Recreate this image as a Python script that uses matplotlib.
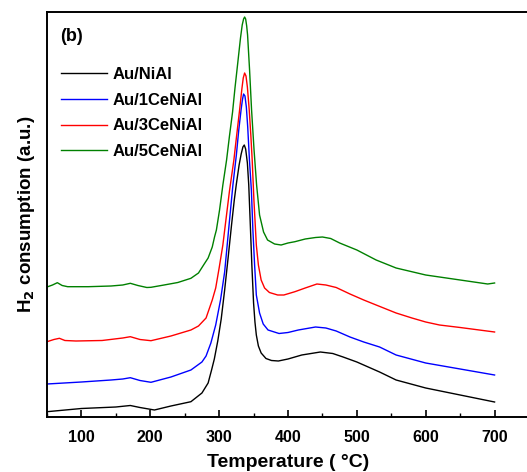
import matplotlib
matplotlib.use("Agg")
import matplotlib.pyplot as plt
from matplotlib.ticker import MultipleLocator

# TPR profiles, temperature in C and H2 signal in a.u. (curves already offset)
t_nial = [50, 100, 150, 171, 185, 206, 230, 259, 275, 284, 289, 293, 298, 303, 308,
          313, 318, 322, 325, 329, 332, 334.5, 336.5, 338.5, 341, 343, 345, 347.5, 350,
          352, 354, 357, 361, 368, 376, 386, 400, 420, 447, 465, 480, 500, 533, 557,
          600, 650, 700]
h2_nial = [0.053, 0.085, 0.10, 0.115, 0.095, 0.07, 0.11, 0.153, 0.24, 0.34, 0.47, 0.58,
           0.76, 0.98, 1.27, 1.59, 1.92, 2.17, 2.33, 2.52, 2.63, 2.70, 2.72, 2.68, 2.54,
           2.32, 1.97, 1.52, 1.14, 0.95, 0.82, 0.71, 0.64, 0.585, 0.565, 0.56, 0.58, 0.62,
           0.65, 0.635, 0.60, 0.55, 0.45, 0.37, 0.29, 0.22, 0.15]

t_1ce = [50, 100, 143, 160, 171, 185, 201, 230, 259, 275, 281, 288, 295, 302, 308, 314,
         320, 325, 328.5, 332, 334, 335.5, 337.5, 339.5, 341.5, 344, 346.8, 349, 351.5,
         354, 358.7, 364, 371, 387, 400, 415, 440, 455, 470, 490, 510, 533, 557, 600,
         650, 700]
h2_1ce = [0.33, 0.35, 0.37, 0.38, 0.393, 0.365, 0.347, 0.40, 0.47, 0.55, 0.61, 0.74,
          0.92, 1.17, 1.45, 1.89, 2.32, 2.62, 2.87, 3.08, 3.18, 3.23, 3.21, 3.10, 2.90,
          2.57, 2.27, 1.87, 1.52, 1.22, 1.04, 0.93, 0.87, 0.835, 0.845, 0.87, 0.90, 0.89,
          0.86, 0.80, 0.75, 0.70, 0.62, 0.54, 0.48, 0.42]

t_3ce = [50, 60, 68, 76, 92, 130, 160, 171, 185, 201, 230, 259, 270, 281, 286, 290, 295,
         300, 305.4, 310, 315, 321.4, 325, 329.7, 333, 335, 337, 339, 341, 343.7, 346,
         348, 350.5, 354, 357, 361, 366, 373, 385, 394, 410, 425, 442, 455, 470, 490,
         510, 528, 557, 580, 600, 620, 650, 700]
h2_3ce = [0.753, 0.775, 0.787, 0.765, 0.76, 0.765, 0.79, 0.803, 0.775, 0.763, 0.81, 0.87,
          0.91, 0.99, 1.09, 1.17, 1.29, 1.49, 1.72, 1.98, 2.26, 2.57, 2.79, 3.07, 3.28,
          3.39, 3.44, 3.41, 3.30, 3.07, 2.82, 2.57, 2.17, 1.72, 1.52, 1.37, 1.29, 1.245,
          1.22, 1.22, 1.253, 1.29, 1.33, 1.32, 1.295, 1.23, 1.17, 1.12, 1.04, 0.99, 0.95,
          0.92, 0.895, 0.85]

t_5ce = [50, 58, 65, 72, 80, 110, 143, 160, 171, 182, 195, 201, 220, 240, 259, 270, 279,
         284, 290, 293.3, 296, 300.6, 305.4, 310.8, 315, 319.5, 323, 326.7, 331, 333.5,
         335.5, 337, 338.5, 340, 341.3, 344.2, 347.1, 350.7, 354.4, 358.7, 364.5, 370.3,
         380.5, 390, 400, 410, 425, 440, 450, 462, 475, 500, 528, 557, 600, 650, 690, 700]
h2_5ce = [1.30, 1.32, 1.343, 1.315, 1.303, 1.303, 1.31, 1.32, 1.337, 1.315, 1.295, 1.297,
          1.32, 1.345, 1.387, 1.44, 1.537, 1.59, 1.70, 1.80, 1.87, 2.07, 2.32, 2.57, 2.81,
          3.05, 3.29, 3.52, 3.79, 3.92, 3.98, 4.00, 3.98, 3.91, 3.82, 3.47, 3.07, 2.67,
          2.32, 2.02, 1.85, 1.77, 1.73, 1.72, 1.74, 1.753, 1.78, 1.795, 1.80, 1.785, 1.74,
          1.67, 1.57, 1.49, 1.42, 1.37, 1.33, 1.34]

labels = ["Au/NiAl", "Au/1CeNiAl", "Au/3CeNiAl", "Au/5CeNiAl"]
colors = ["black", "#0000ff", "#ff0000", "#008000"]

plt.rcParams['font.family'] = ['Liberation Sans', 'DejaVu Sans']
plt.rcParams['font.weight'] = 'bold'

fig = plt.figure(figsize=(5.27, 4.72), dpi=100)
ax = fig.add_axes([47 / 527, 55 / 472, 482 / 527, 405 / 472])

series = [(t_nial, h2_nial), (t_1ce, h2_1ce), (t_3ce, h2_3ce), (t_5ce, h2_5ce)]
for (t, h), lab, c in zip(series, labels, colors):
    ax.plot(t, h, color=c, lw=1.0, label=lab)

ax.set_xlim(50, 750)
ax.set_ylim(0, 4.05)
ax.xaxis.set_major_locator(MultipleLocator(100))
ax.xaxis.set_minor_locator(MultipleLocator(50))
ax.set_xticks(range(100, 800, 100))
ax.set_xticklabels([str(v) for v in range(100, 800, 100)])
ax.tick_params(axis='x', which='major', direction='in', length=5, width=1.2,
               pad=9, labelsize=11.5)
ax.tick_params(axis='x', which='minor', direction='in', length=3, width=1.0)
ax.tick_params(axis='y', left=False, labelleft=False)
for s in ax.spines.values():
    s.set_linewidth(1.4)

ax.set_xlabel("Temperature ( \u00b0C)", fontsize=14, fontweight='bold', labelpad=7)
ax.set_ylabel("H$_\\mathbf{2}$ consumption (a.u.)", fontsize=13.5, fontweight='bold',
              labelpad=7.5)

ax.text(0.027, 0.94, "(b)", transform=ax.transAxes, fontsize=13, fontweight='bold',
        va='center', ha='left')

ax.legend(loc='upper left', bbox_to_anchor=(0.029, 0.865), frameon=False,
          borderpad=0, borderaxespad=0, handlelength=2.75, handletextpad=0.35,
          labelspacing=0.65, prop={'size': 12, 'weight': 'bold'})

fig.savefig("out.png", dpi=100)
